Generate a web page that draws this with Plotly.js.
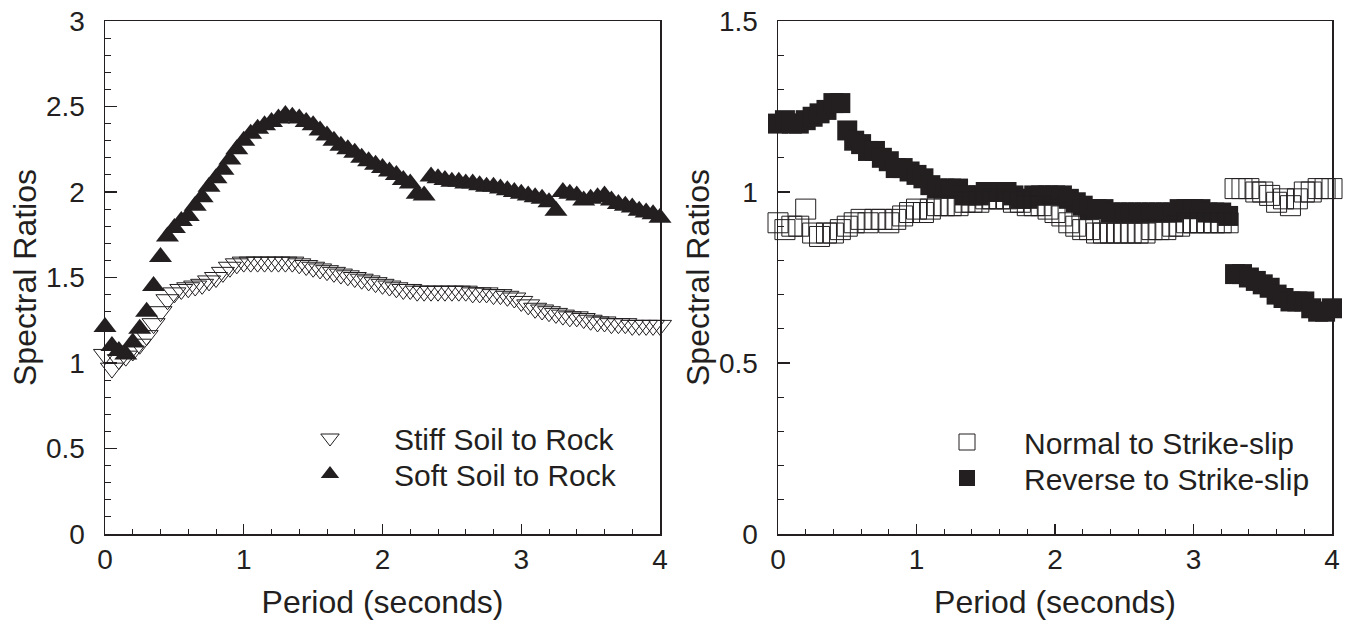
<!DOCTYPE html>
<html>
<head>
<meta charset="utf-8">
<script src="https://cdn.plot.ly/plotly-3.0.1.min.js"></script>
<style>html,body{margin:0;padding:0;background:#fff;}#plot{width:1348px;height:629px;}</style>
</head>
<body>
<div id="plot"></div>
<script>
// Periods (seconds), 0.05 s spacing
const period = [0.00,0.05,0.10,0.15,0.20,0.25,0.30,0.35,0.40,0.45,0.50,0.55,0.60,0.65,0.70,0.75,0.80,0.85,0.90,0.95,
 1.00,1.05,1.10,1.15,1.20,1.25,1.30,1.35,1.40,1.45,1.50,1.55,1.60,1.65,1.70,1.75,1.80,1.85,1.90,1.95,
 2.00,2.05,2.10,2.15,2.20,2.25,2.30,2.35,2.40,2.45,2.50,2.55,2.60,2.65,2.70,2.75,2.80,2.85,2.90,2.95,
 3.00,3.05,3.10,3.15,3.20,3.25,3.30,3.35,3.40,3.45,3.50,3.55,3.60,3.65,3.70,3.75,3.80,3.85,3.90,3.95,4.00];

// Left panel: site class ratios
const stiffSoil = [1.05,0.97,1.02,1.04,1.07,1.11,1.16,1.23,1.30,1.37,1.41,1.43,1.44,1.45,1.46,1.48,1.50,1.53,1.56,1.58,
 1.59,1.59,1.59,1.59,1.59,1.59,1.59,1.59,1.58,1.57,1.56,1.55,1.54,1.53,1.52,1.51,1.50,1.49,1.48,1.47,
 1.46,1.45,1.44,1.43,1.43,1.42,1.42,1.42,1.42,1.42,1.42,1.42,1.42,1.41,1.41,1.41,1.40,1.40,1.39,1.38,
 1.36,1.34,1.32,1.31,1.30,1.29,1.28,1.27,1.27,1.26,1.25,1.24,1.24,1.23,1.23,1.23,1.22,1.22,1.22,1.22,1.22];
const softSoil = [1.21,1.10,1.07,1.05,1.12,1.20,1.30,1.45,1.62,1.74,1.79,1.83,1.86,1.92,1.97,2.03,2.08,2.13,2.19,2.25,
 2.30,2.34,2.37,2.39,2.41,2.43,2.45,2.44,2.43,2.41,2.39,2.36,2.33,2.30,2.27,2.25,2.23,2.20,2.18,2.16,
 2.14,2.12,2.10,2.07,2.05,1.99,1.98,2.09,2.08,2.07,2.06,2.06,2.05,2.05,2.04,2.03,2.03,2.02,2.01,2.00,
 1.99,1.98,1.97,1.96,1.94,1.89,2.00,1.99,1.98,1.95,1.96,1.97,1.98,1.95,1.93,1.92,1.91,1.89,1.88,1.87,1.85];

// Right panel: mechanism ratios
const normalSS = [0.91,0.89,0.90,0.90,0.95,0.88,0.87,0.88,0.88,0.89,0.90,0.91,0.92,0.91,0.92,0.92,0.91,0.92,0.93,0.94,
 0.95,0.94,0.95,0.96,0.96,0.96,0.96,0.97,0.97,0.97,0.98,0.98,0.98,0.98,0.97,0.97,0.96,0.96,0.96,0.95,
 0.94,0.93,0.91,0.90,0.89,0.89,0.88,0.88,0.88,0.88,0.88,0.88,0.88,0.88,0.89,0.89,0.89,0.90,0.90,0.91,
 0.91,0.91,0.91,0.91,0.91,0.91,1.01,1.01,1.01,1.00,1.00,0.99,0.97,0.98,0.96,0.98,1.00,1.00,1.01,1.01,1.01];
const reverseSS = [1.20,1.21,1.20,1.20,1.21,1.22,1.23,1.24,1.26,1.26,1.18,1.15,1.14,1.12,1.12,1.10,1.09,1.07,1.07,1.06,
 1.05,1.04,1.02,1.01,1.01,1.01,1.01,0.99,0.99,0.99,1.00,1.00,1.00,1.00,0.99,0.98,0.98,0.99,0.99,0.99,
 0.99,0.99,0.98,0.97,0.96,0.95,0.95,0.95,0.94,0.94,0.94,0.94,0.94,0.94,0.94,0.94,0.94,0.94,0.95,0.95,
 0.95,0.95,0.94,0.94,0.94,0.93,0.76,0.76,0.75,0.74,0.73,0.72,0.70,0.69,0.68,0.68,0.68,0.66,0.65,0.65,0.66];

const ink = '#231f20';
const FONT = 'Liberation Sans, Arial, Helvetica, sans-serif';

const traces = [
  {x: period, y: stiffSoil, type: 'scatter', mode: 'markers', name: 'Stiff Soil to Rock',
   xaxis: 'x', yaxis: 'y', legend: 'legend', cliponaxis: false,
   marker: {symbol: 'triangle-down-open', size: 20, color: ink, line: {color: ink, width: 1}}},
  {x: period, y: softSoil, type: 'scatter', mode: 'markers', name: 'Soft Soil to Rock',
   xaxis: 'x', yaxis: 'y', legend: 'legend2', cliponaxis: false,
   marker: {symbol: 'triangle-up', size: 20, color: ink, line: {width: 0}}},
  {x: period, y: reverseSS, type: 'scatter', mode: 'markers', name: 'Reverse to Strike-slip',
   xaxis: 'x2', yaxis: 'y2', legend: 'legend4', cliponaxis: false,
   marker: {symbol: 'square', size: 20, color: ink, line: {width: 0}}},
  {x: period, y: normalSS, type: 'scatter', mode: 'markers', name: 'Normal to Strike-slip',
   xaxis: 'x2', yaxis: 'y2', legend: 'legend3', cliponaxis: false,
   marker: {symbol: 'square', size: 20, color: 'rgba(255,255,255,0)', line: {color: ink, width: 1}}}
];

function xax(domain, anchor) {
  return {
    domain: domain, anchor: anchor, range: [0, 4], tickvals: [0,1,2,3,4], ticktext: ['0','1','2','3','4'],
    ticks: 'inside', ticklen: 10, tickwidth: 1.2, tickcolor: ink,
    minor: {dtick: 0.2, ticks: 'inside', ticklen: 5, tickwidth: 1, tickcolor: ink},
    showline: true, linecolor: ink, linewidth: 1.5, mirror: true, showgrid: false, zeroline: false,
    tickfont: {family: FONT, size: 28, color: ink},
    title: {text: 'Period (seconds)', font: {family: FONT, size: 32, color: ink}, standoff: 16}
  };
}
function yax(domain, anchor, maxv, dt) {
  const tv = [], tt = [];
  for (let v = 0; v <= maxv + 1e-9; v += dt) { tv.push(+v.toFixed(2)); tt.push(String(+v.toFixed(2))); }
  return {
    domain: domain, anchor: anchor, range: [0, maxv], tickvals: tv, ticktext: tt,
    ticks: 'inside', ticklen: 12, tickwidth: 1.2, tickcolor: ink, ticklabelstandoff: 13,
    minor: {dtick: 0.1, ticks: 'inside', ticklen: 6, tickwidth: 1, tickcolor: ink},
    showline: true, linecolor: ink, linewidth: 1.5, mirror: true, showgrid: false, zeroline: false,
    tickfont: {family: FONT, size: 28, color: ink},
    title: {text: 'Spectral Ratios', font: {family: FONT, size: 32, color: ink}, standoff: 0}
  };
}

const W = 1348, H = 629;
const yDom = [1 - 534 / H, 1 - 21 / H];
function leg(xpx, ypx, iw) {
  return {x: xpx / W, y: 1 - ypx / H, xanchor: 'left', yanchor: 'middle', bgcolor: 'rgba(0,0,0,0)',
          font: {family: FONT, size: 30, color: ink}, itemwidth: iw};
}
const layout = {
  width: W, height: H, margin: {l: 0, r: 0, t: 0, b: 0},
  paper_bgcolor: '#fff', plot_bgcolor: '#fff',
  font: {family: FONT, color: ink},
  showlegend: true,
  xaxis: xax([105 / W, 660 / W], 'y'),
  yaxis: yax(yDom, 'x', 3, 0.5),
  xaxis2: xax([778 / W, 1332 / W], 'y2'),
  yaxis2: yax(yDom, 'x2', 1.5, 0.5),
  legend: leg(266, 438, 118),
  legend2: leg(266, 474, 118),
  legend3: leg(910, 442, 104),
  legend4: leg(910, 478, 104)
};

Plotly.newPlot('plot', traces, layout, {displayModeBar: false, staticPlot: true});
</script>
</body>
</html>
